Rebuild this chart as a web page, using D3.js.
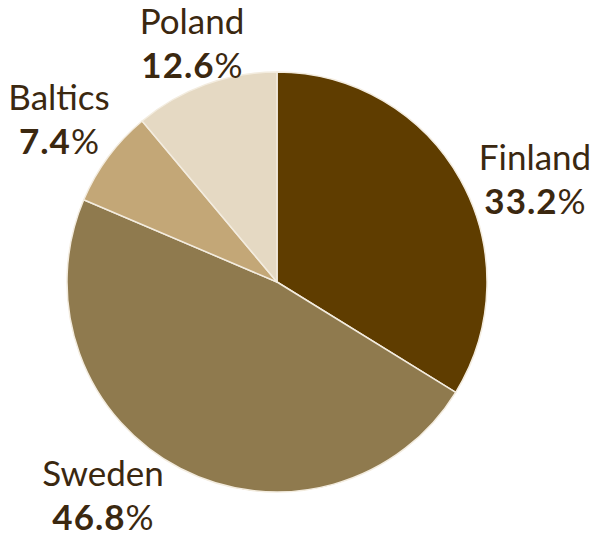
<!DOCTYPE html>
<html>
<head>
<meta charset="utf-8">
<script src="https://cdn.jsdelivr.net/npm/d3@7"></script>
<style>
  html, body { margin: 0; padding: 0; background: #fff; }
  svg { display: block; }
</style>
</head>
<body>
<div id="chart"></div>
<script>
  // clockwise from 12 o'clock
  const regions = ['Finland', 'Sweden', 'Baltics', 'Poland'];
  const sliceValues = [33.8, 47.6, 7.5, 11.1];
  // printed labels
  const labelValues = ['33.2', '46.8', '7.4', '12.6'];
  const colors = ['#5f3d00', '#8f7a4e', '#c3a777', '#e5d9c3'];
  // label anchor (centre of text block, first baseline)
  const labelPos = [[535, 170], [103, 486], [59, 110], [192, 34]];

  const W = 597, H = 537;
  const cx = 277, cy = 282, R = 210;

  const svg = d3.select('#chart').append('svg').attr('width', W).attr('height', H);

  const data = regions.map((name, i) => ({
    name, value: sliceValues[i], label: labelValues[i], color: colors[i], pos: labelPos[i]
  }));

  const pie = d3.pie().sort(null).value(d => d.value);
  const arc = d3.arc().innerRadius(0).outerRadius(R);

  const g = svg.append('g').attr('transform', `translate(${cx},${cy})`);
  g.selectAll('path').data(pie(data)).enter().append('path')
    .attr('d', arc)
    .attr('fill', d => d.data.color)
    .attr('stroke', '#f3ecdf')
    .attr('stroke-width', 1.5)
    .attr('stroke-linejoin', 'round');

  const txt = svg.selectAll('.lbl').data(data).enter().append('text')
    .attr('class', 'lbl')
    .attr('text-anchor', 'middle')
    .style('fill', '#3b2810')
    .style('font-family', 'Lato, "Open Sans", sans-serif')
    .style('font-size', '35px');

  txt.append('tspan')
    .attr('x', d => d.pos[0]).attr('y', d => d.pos[1])
    .text(d => d.name);
  const v = txt.append('tspan')
    .attr('x', d => d.pos[0]).attr('y', d => d.pos[1] + 44);
  v.append('tspan').style('font-weight', 'bold').style('letter-spacing', '1px').text(d => d.label);
  v.append('tspan').text('%');
</script>
</body>
</html>
